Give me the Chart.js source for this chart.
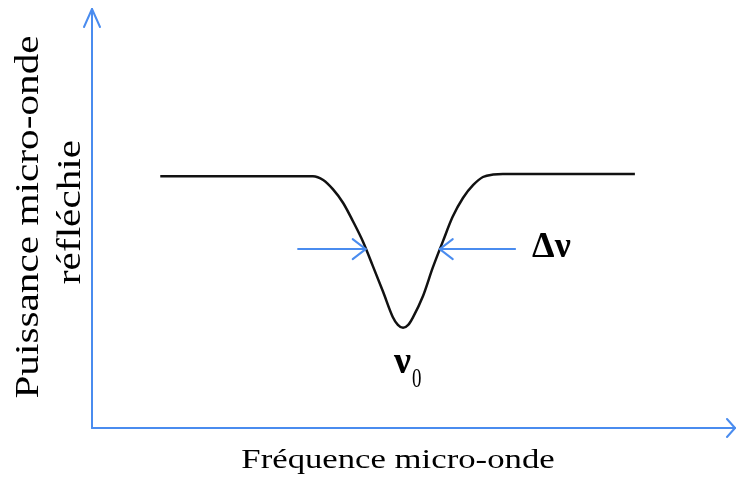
<!DOCTYPE html>
<html>
<head>
<meta charset="utf-8">
<script src="https://cdn.jsdelivr.net/npm/chart.js@4"></script>
<style>
  html, body { margin: 0; padding: 0; background: #fff; }
</style>
</head>
<body>
<canvas id="resonance" width="736" height="489"></canvas>
<script>
// frequency (arbitrary units) and reflected power (arbitrary units)
const freq = [10.6, 34.3, 35.9, 37.4, 39.0, 40.5, 42.1, 43.6, 45.2, 46.7, 47.5, 48.3,
              49.1, 49.8, 51.4, 52.9, 54.5, 56.0, 57.6, 59.2, 60.7, 62.3, 63.8, 84.3];
const power = [60.1, 60.1, 59.2, 57.0, 53.7, 49.4, 44.4, 38.7, 32.5, 26.5, 24.6, 23.9,
               24.6, 26.3, 31.5, 38.2, 44.6, 50.4, 54.9, 58.0, 59.9, 60.5, 60.6, 60.6];

// width markers (Δν) and resonance centre (ν0)
const halfLevel = 42.7;
const halfLeft = 42.5;
const halfRight = 54.0;
const markerFrom = 32.0;
const markerTo = 65.7;
const centerFreq = 48.3;

const xTitle = "Fréquence micro-onde";
const yTitle = ["Puissance micro-onde", "réfléchie"];

const AXIS_BLUE = "#4a8cef";
const SERIF = '"Liberation Serif", "Times New Roman", serif';

function stretchedText(ctx, text, x, y, sx, rot) {
  ctx.save();
  ctx.translate(x, y);
  if (rot) ctx.rotate(rot);
  ctx.scale(sx, 1);
  ctx.fillText(text, 0, 0);
  ctx.restore();
}

function line(ctx, pts) {
  ctx.beginPath();
  ctx.moveTo(pts[0][0], pts[0][1]);
  for (let i = 1; i < pts.length; i++) ctx.lineTo(pts[i][0], pts[i][1]);
  ctx.stroke();
}

// blue axes with arrows, Δν markers and the labels
const decorations = {
  id: "decorations",
  afterDraw(chart) {
    const { ctx, chartArea: a, scales } = chart;
    const xs = scales.x, ys = scales.y;

    ctx.save();
    ctx.strokeStyle = AXIS_BLUE;
    ctx.lineWidth = 2;
    ctx.lineCap = "round";
    ctx.lineJoin = "round";

    // axes
    line(ctx, [[a.left, a.bottom], [a.left, a.top]]);
    line(ctx, [[a.left, a.bottom], [a.right - 1, a.bottom]]);
    line(ctx, [[a.left - 8, a.top + 18], [a.left, a.top], [a.left + 8, a.top + 18]]);
    line(ctx, [[a.right - 9, a.bottom - 9], [a.right - 1, a.bottom], [a.right - 9, a.bottom + 9]]);

    // Δν markers
    const yh = ys.getPixelForValue(halfLevel);
    const xl = xs.getPixelForValue(halfLeft);
    const xr = xs.getPixelForValue(halfRight);
    const x0 = xs.getPixelForValue(markerFrom);
    const x1 = xs.getPixelForValue(markerTo);
    line(ctx, [[x0, yh], [xl, yh]]);
    line(ctx, [[xl - 13, yh - 10], [xl, yh], [xl - 13, yh + 10]]);
    line(ctx, [[x1, yh], [xr, yh]]);
    line(ctx, [[xr + 13, yh - 10], [xr, yh], [xr + 13, yh + 10]]);

    // labels
    ctx.fillStyle = "#000";
    ctx.textBaseline = "alphabetic";

    ctx.textAlign = "left";
    ctx.font = "bold 36px " + SERIF;
    ctx.fillText("Δν", x1 + 17, yh + 8);

    const xc = xs.getPixelForValue(centerFreq);
    ctx.textAlign = "right";
    ctx.font = "bold 38px " + SERIF;
    ctx.fillText("ν", xc + 8, 373);
    ctx.textAlign = "left";
    ctx.font = "27px " + SERIF;
    ctx.save();
    ctx.translate(xc + 9, 387);
    ctx.scale(0.7, 1.05);
    ctx.fillText("0", 0, 0);
    ctx.restore();

    ctx.textAlign = "center";
    ctx.font = "28px " + SERIF;
    stretchedText(ctx, xTitle, 398, 468, 1.24, 0);

    ctx.font = "33px " + SERIF;
    stretchedText(ctx, yTitle[0], 38, 217, 1.25, -Math.PI / 2);
    stretchedText(ctx, yTitle[1], 80, 212, 1.25, -Math.PI / 2);

    ctx.restore();
  }
};

const ctx = document.getElementById("resonance").getContext("2d");

new Chart(ctx, {
  type: "scatter",
  data: {
    datasets: [{
      data: freq.map((f, i) => ({ x: f, y: power[i] })),
      showLine: true,
      borderColor: "#111",
      borderWidth: 2.5,
      pointRadius: 0,
      cubicInterpolationMode: "monotone",
      fill: false
    }]
  },
  options: {
    responsive: false,
    animation: false,
    layout: { padding: { left: 92, right: 0, top: 9, bottom: 61 } },
    scales: {
      x: { type: "linear", min: 0, max: 100, display: false },
      y: { type: "linear", min: 0, max: 100, display: false }
    },
    plugins: {
      legend: { display: false },
      tooltip: { enabled: false }
    }
  },
  plugins: [decorations]
});
</script>
</body>
</html>
